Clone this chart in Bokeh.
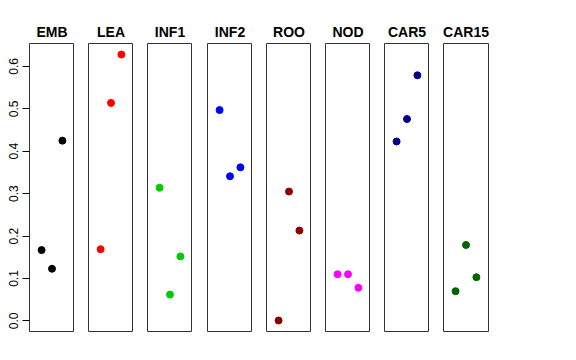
from bokeh.plotting import figure
from bokeh.layouts import row
from bokeh.models import Range1d, FixedTicker
from bokeh.embed import file_html
from bokeh.resources import INLINE

groups = ["EMB", "LEA", "INF1", "INF2", "ROO", "NOD", "CAR5", "CAR15"]
colors = ["black", "red", "#00CD00", "blue", "#8B0000", "magenta", "#00008B", "#006400"]
xs = [1, 2, 3]
EMB = [0.167, 0.123, 0.425]
LEA = [0.169, 0.514, 0.628]
INF1 = [0.314, 0.062, 0.152]
INF2 = [0.497, 0.341, 0.362]
ROO = [0.001, 0.305, 0.213]
NOD = [0.110, 0.110, 0.078]
CAR5 = [0.423, 0.476, 0.579]
CAR15 = [0.070, 0.179, 0.103]
series = [EMB, LEA, INF1, INF2, ROO, NOD, CAR5, CAR15]
yticks = [0.0, 0.1, 0.2, 0.3, 0.4, 0.5, 0.6]

FRAME_W = 45
FRAME_H = 288
TOP = 43
BOTTOM = 4
LEFT0 = 29
STEP = 59.2

figs = []
prev_right = 0
n = len(groups)
for i, (g, c, vals) in enumerate(zip(groups, colors, series)):
    left_edge = round(LEFT0 + i * STEP)
    if i == 0:
        border_left = LEFT0
    else:
        border_left = left_edge - prev_right
    border_right = 20 if i == n - 1 else 0
    fig_w = border_left + FRAME_W + border_right
    prev_right = left_edge + FRAME_W
    p = figure(width=fig_w, height=TOP + FRAME_H + BOTTOM,
               x_range=Range1d(-0.16, 4.16), y_range=Range1d(-0.025, 0.654),
               output_backend="svg", toolbar_location=None,
               x_axis_location=None,
               y_axis_location="left" if i == 0 else None,
               min_border_left=border_left, min_border_right=border_right,
               min_border_top=TOP, min_border_bottom=BOTTOM,
               title=g)
    p.title.align = "center"
    p.title.text_font = "Liberation Sans"
    p.title.text_font_style = "bold"
    p.title.text_font_size = "14px"
    p.title.text_color = "black"
    p.title.standoff = 7
    p.xgrid.visible = False
    p.ygrid.visible = False
    p.outline_line_color = "#333333"
    p.outline_line_width = 1
    p.background_fill_color = "white"
    p.border_fill_color = None
    if i == 0:
        ax = p.yaxis[0]
        ax.ticker = FixedTicker(ticks=yticks)
        ax.major_label_overrides = {t: f"{t:.1f}" for t in yticks}
        ax.major_label_orientation = "vertical"
        ax.major_label_text_font = "Liberation Sans"
        ax.major_label_text_font_size = "12px"
        ax.major_label_text_color = "black"
        ax.major_label_standoff = 4
        ax.major_tick_out = 7
        ax.major_tick_in = 0
        ax.minor_tick_line_color = None
        ax.axis_line_color = None
        ax.major_tick_line_color = "black"
    p.scatter(x=xs, y=vals, size=7, color=c)
    figs.append(p)

layout = row(*figs, spacing=0)
open("out.html", "w").write(file_html(layout, INLINE))
